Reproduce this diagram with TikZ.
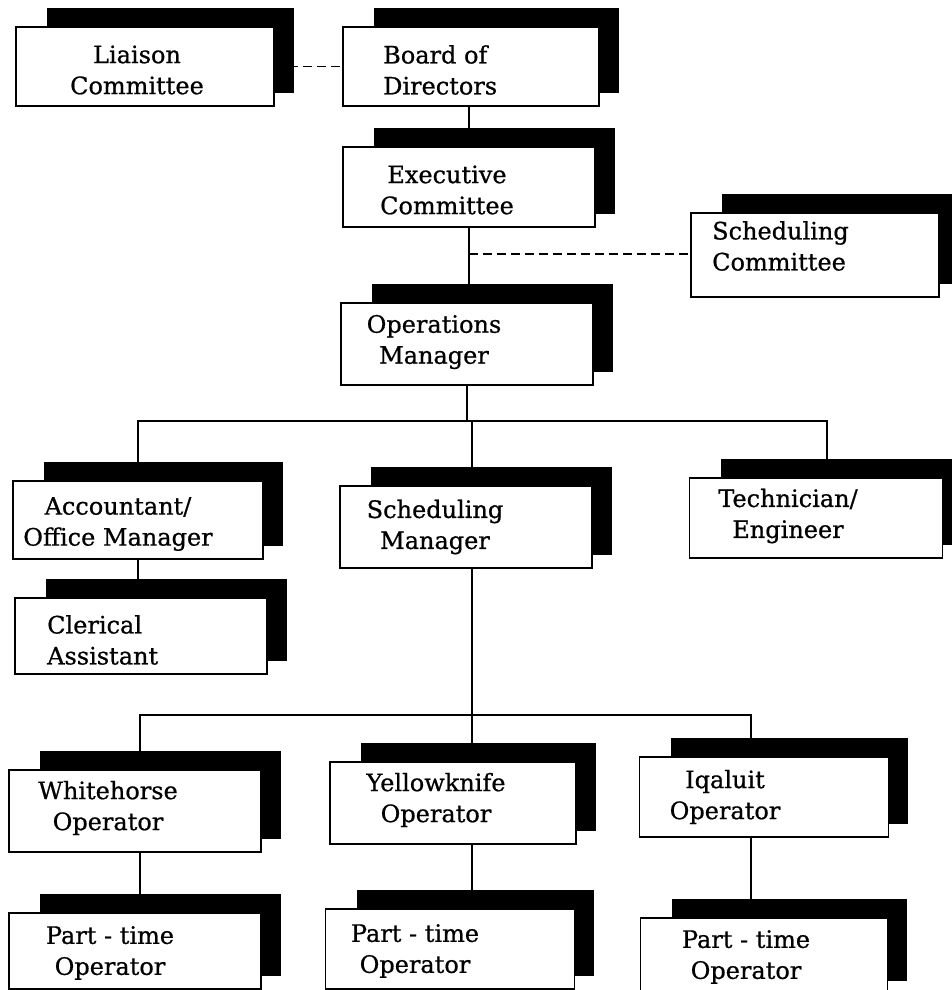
\documentclass[tikz,border=0pt]{standalone}
\usepackage{fontspec}
\setmainfont{DejaVu Serif}[FakeBold=0.7]
\usetikzlibrary{backgrounds}

\begin{document}
\begin{tikzpicture}[x=1pt,y=-1pt,
    unit/.style={draw, line width=1.5pt, fill=white, inner sep=0pt,
        minimum width=252pt, minimum height=80pt},
    txt/.style={align=center, inner sep=0pt, font=\fontsize{24}{31}\selectfont},
    link/.style={line width=1.6pt},
    dlink/.style={link, dash pattern=on 9pt off 5pt}]

    \useasboundingbox (0,0) rectangle (952,990);

    % boxes
    \node[unit, minimum width=258pt, minimum height=79pt] (liaison) at (145,66.5) {};
    \node[unit, minimum width=256pt, minimum height=79pt] (board) at (471,66.5) {};
    \node[unit] (exec) at (469,187) {};
    \node[unit, minimum width=248pt, minimum height=84pt] (schedcom) at (815,255) {};
    \node[unit, minimum height=82pt] (ops) at (467,344) {};
    \node[unit, minimum width=250pt, minimum height=78pt] (acct) at (138,520) {};
    \node[unit, minimum height=82pt] (schedmgr) at (466,527) {};
    \node[unit, minimum width=253pt] (tech) at (816,518) {};
    \node[unit, minimum height=76pt] (clerical) at (141,636) {};
    \node[unit, minimum height=82pt] (white) at (135,811) {};
    \node[unit, minimum width=246pt, minimum height=82pt] (yellow) at (453,803) {};
    \node[unit, minimum width=249pt] (iqaluit) at (764,797) {};
    \node[unit, minimum height=76pt] (pt1) at (135,951) {};
    \node[unit, minimum width=249pt] (pt2) at (450,949) {};
    \node[unit, minimum width=247pt, minimum height=76pt] (pt3) at (764,956) {};

    % shadows behind the boxes
    \begin{scope}[on background layer]
        \foreach \b in {liaison,board,exec,schedcom,ops,acct,schedmgr,tech,
                        clerical,white,yellow,iqaluit,pt1,pt2,pt3}
            \fill ([shift={(32pt,18pt)}]\b.north west) rectangle ([shift={(19pt,14pt)}]\b.south east);
    \end{scope}

    % labels
    \node[txt] (liaison-t) at (137,70) {Liaison\\Committee};
    \node[txt, align=left, anchor=west] (board-t) at (383,70) {Board of\\Directors};
    \node[txt] (exec-t) at (447,190) {Executive\\Committee};
    \node[txt, align=left, anchor=west] (schedcom-t) at (712,246) {Scheduling\\Committee};
    \node[txt] (ops-t) at (434,342) {Operations\\Manager};
    \node[txt] (acct-t) at (118,524) {Accountant/\\Office Manager};
    \node[txt] (schedmgr-t) at (435,527) {Scheduling\\Manager};
    \node[txt] (tech-t) at (788,516) {Technician/\\Engineer};
    \node[txt, align=left, anchor=west] (clerical-t) at (47,640) {Clerical\\Assistant};
    \node[txt] (white-t) at (108,808) {Whitehorse\\Operator};
    \node[txt] (yellow-t) at (436,800) {Yellowknife\\Operator};
    \node[txt] (iqaluit-t) at (725,797) {Iqaluit\\Operator};
    \node[txt] (pt1-t) at (110,953) {Part - time\\Operator};
    \node[txt] (pt2-t) at (415,951) {Part - time\\Operator};
    \node[txt] (pt3-t) at (746,957) {Part - time\\Operator};

    % connectors
    \coordinate (side) at (469,254);
    \coordinate (bus) at (467,421);
    \coordinate (bus2) at (472,715);

    \draw[dlink] (liaison) -- (board);
    \draw[link] (exec.north) -- (exec.north |- board.south);
    \draw[link] (exec.south) -- (exec.south |- ops.north);
    \draw[dlink] (side) -- (side -| schedcom.west);

    \draw[link] (ops.south) -- (ops.south |- bus);
    \draw[link] (acct.north) |- ([xshift=11pt]tech.north |- bus) -- ([xshift=11pt]tech.north);
    \draw[link] ([xshift=6pt]schedmgr.north |- bus) -- ([xshift=6pt]schedmgr.north);
    \draw[link] (acct.south) -- (acct.south |- clerical.north);

    \draw[link] ([xshift=6pt]schedmgr.south) -- (bus2);
    \draw[link] ([xshift=5pt]white.north) |- ([xshift=-13pt]iqaluit.north |- bus2) -- ([xshift=-13pt]iqaluit.north);
    \draw[link] (bus2) -- (bus2 |- yellow.north);
    \draw[link] ([xshift=5pt]white.south) -- ([xshift=5pt]white.south |- pt1.north);
    \draw[link] (bus2 |- yellow.south) -- (bus2 |- pt2.north);
    \draw[link] ([xshift=-13pt]iqaluit.south) -- ([xshift=-13pt]iqaluit.south |- pt3.north);
\end{tikzpicture}
\end{document}
